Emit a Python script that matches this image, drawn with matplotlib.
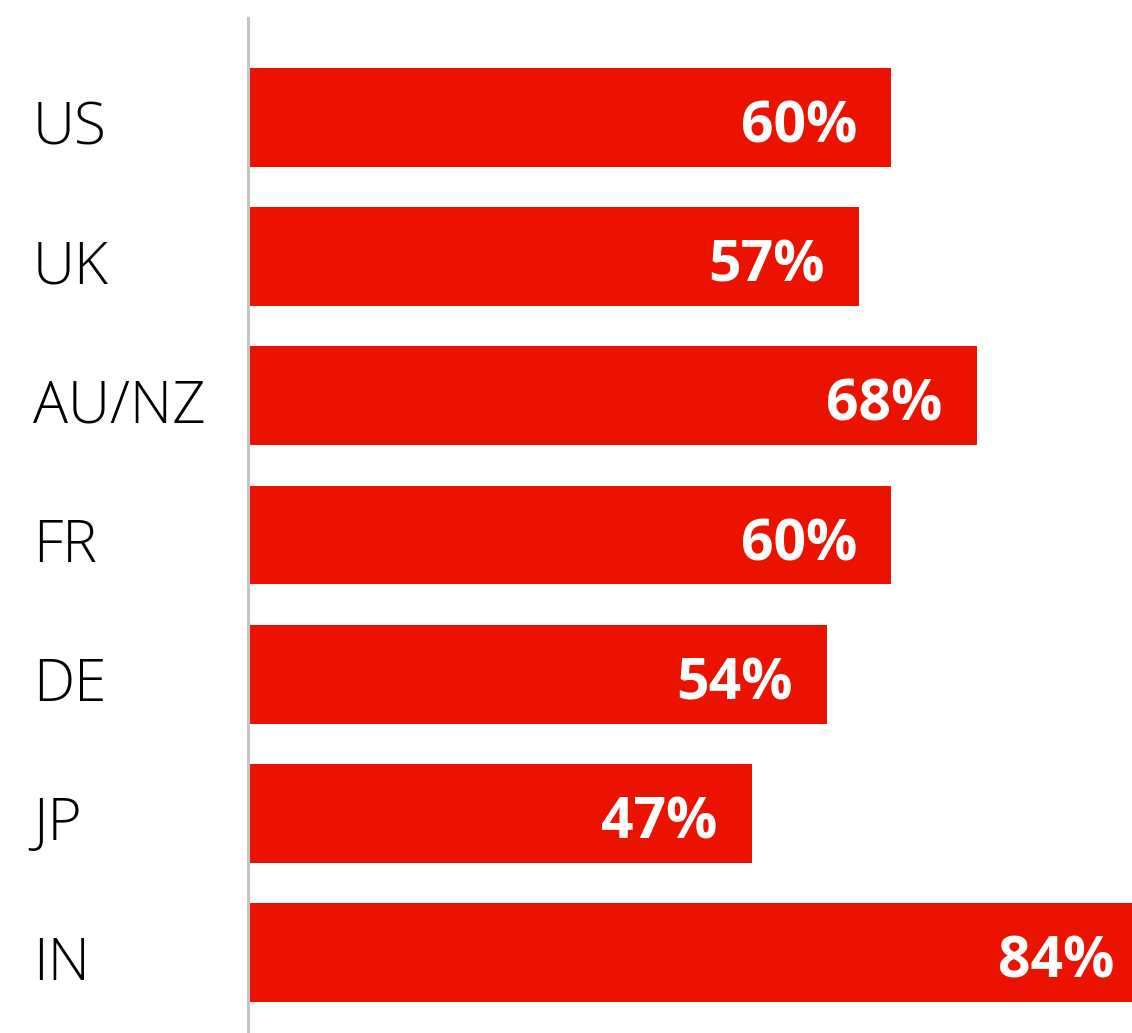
import matplotlib
matplotlib.use("Agg")
import matplotlib.pyplot as plt
from matplotlib import font_manager as fm
from matplotlib.transforms import blended_transform_factory, offset_copy

# Share of respondents by market (%)
markets = ["US", "UK", "AU/NZ", "FR", "DE", "JP", "IN"]
shares = [60, 57, 68, 60, 54, 47, 84]


def face(filename, family, weight):
    """FontProperties for a specific static face, falling back to family/weight."""
    for f in fm.fontManager.ttflist:
        if f.fname.endswith(filename):
            return fm.FontProperties(fname=f.fname)
    return fm.FontProperties(family=family, weight=weight)


label_font = face("OpenSans-Light.ttf", "Open Sans", "light")
value_font = face("OpenSans-Bold.ttf", "Open Sans", "bold")

W, H = 1132, 1033
fig = plt.figure(figsize=(W / 100, H / 100), dpi=100)
ax = fig.add_axes([248 / W, 0, (W - 248) / W, (H - 18) / H])

bar_color = "#EB1300"
ypos = list(range(len(markets)))
ax.barh(ypos, shares, height=0.71, color=bar_color, zorder=1)

ax.set_xlim(0, 82.5)
ax.set_ylim(len(markets) - 1 + 0.578, -0.715)

for side in ["top", "right", "bottom"]:
    ax.spines[side].set_visible(False)
ax.spines["left"].set_color("#c4c4c4")
ax.spines["left"].set_linewidth(2.2)
ax.spines["left"].set_zorder(3)
ax.set_xticks([])
ax.set_yticks([])

# Value labels inside the bar ends
for y, v in zip(ypos, shares):
    tr = offset_copy(ax.transData, fig=fig, x=-34, y=-25, units="dots")
    ax.text(v, y, f"{v}%", transform=tr, ha="right", va="baseline",
            color="white", fontproperties=value_font, fontsize=41,
            zorder=4, clip_on=False)

# Market names on the left
lab_tr = offset_copy(blended_transform_factory(fig.transFigure, ax.transData),
                     fig=fig, x=0, y=-27, units="dots")
for y, name in zip(ypos, markets):
    fig.text(33 / W, y, name, transform=lab_tr, ha="left", va="baseline",
             color="black", fontproperties=label_font, fontsize=42)

fig.savefig("out.png", dpi=100)
